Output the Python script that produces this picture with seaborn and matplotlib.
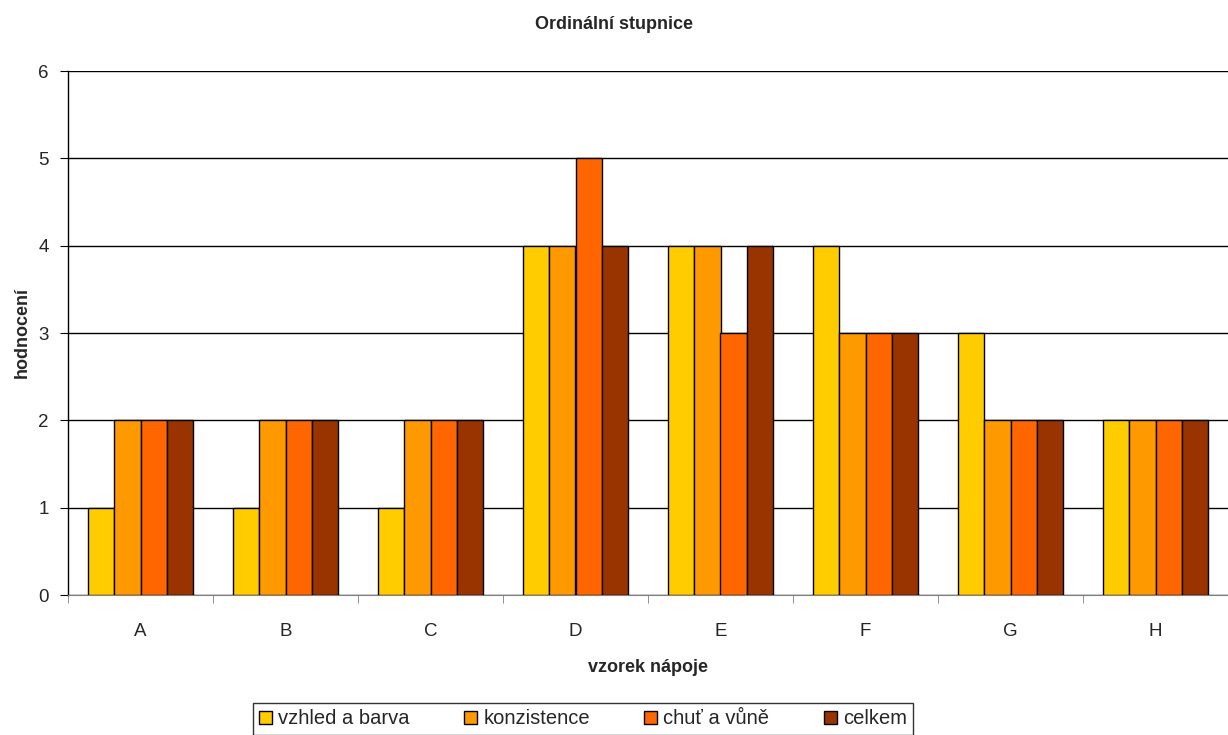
import numpy as np
import pandas as pd
import matplotlib
matplotlib.use('Agg')
import matplotlib.pyplot as plt
import seaborn as sns

# data
vzorky = ['A', 'B', 'C', 'D', 'E', 'F', 'G', 'H']
vzhled = [1, 1, 1, 4, 4, 4, 3, 2]
konzistence = [2, 2, 2, 4, 4, 3, 2, 2]
chut = [2, 2, 2, 5, 3, 3, 2, 2]
celkem = [2, 2, 2, 4, 4, 3, 2, 2]
series = ['vzhled a barva', 'konzistence', 'chuť a vůně', 'celkem']
colors = ['#FFCC00', '#FF9900', '#FF6600', '#993300']

df = pd.DataFrame({'vzorek': vzorky, series[0]: vzhled, series[1]: konzistence,
                   series[2]: chut, series[3]: celkem})
long = df.melt(id_vars='vzorek', var_name='kriterium', value_name='hodnoceni')

sns.set_style('white')
plt.rcParams['font.family'] = ['Liberation Sans', 'DejaVu Sans']

fig = plt.figure(figsize=(12.28, 7.35), dpi=100)
ax = fig.add_axes([68 / 1228, 1 - 595 / 735, 1 - 68 / 1228, (595 - 71) / 735])

sns.barplot(data=long, x='vzorek', y='hodnoceni', hue='kriterium',
            hue_order=series, palette=colors, width=0.73, saturation=1,
            edgecolor='black', linewidth=1, ax=ax, zorder=3)

ax.set_ylim(0, 6)
ax.set_xlim(-0.5, len(vzorky) - 0.5)
ax.set_yticks(range(0, 7))
ax.yaxis.grid(True, color='#000000', linewidth=1, zorder=0)
ax.set_axisbelow(True)
for s in ['top', 'right']:
    ax.spines[s].set_visible(False)
ax.spines['left'].set_color('black')
ax.spines['bottom'].set_color('#808080')
ax.spines['left'].set_linewidth(1)

# ticks between categories
ax.set_xticks(np.arange(-0.5, len(vzorky)), minor=True)
ax.tick_params(axis='x', which='major', length=0, pad=20, labelsize=13.5)
ax.tick_params(axis='x', which='minor', length=6, color='#808080', direction='out')
ax.tick_params(axis='y', length=6, direction='out', color='black', labelsize=13.5, pad=8)
ax.tick_params(axis='both', bottom=True, left=True)
ax.xaxis.set_tick_params(which='minor', bottom=True)

ax.set_xlabel('vzorek nápoje', fontsize=13, fontweight='bold', labelpad=14)
ax.set_ylabel('hodnocení', fontsize=13, fontweight='bold', labelpad=5)
fig.suptitle('Ordinální stupnice', fontsize=13, fontweight='bold', x=0.5, y=0.978)

leg = ax.legend(loc='center', bbox_to_anchor=(583 / 1228, 1 - 719 / 735),
                bbox_transform=fig.transFigure, ncol=4, frameon=True,
                fontsize=14.5, handlelength=0.65, handleheight=0.65,
                handletextpad=0.3, columnspacing=2.7, borderpad=0.3,
                fancybox=False, edgecolor='black')
leg.get_frame().set_linewidth(1)
for h in leg.legend_handles:
    h.set_edgecolor('black')
    h.set_linewidth(1)

fig.savefig('out.png', dpi=100)
